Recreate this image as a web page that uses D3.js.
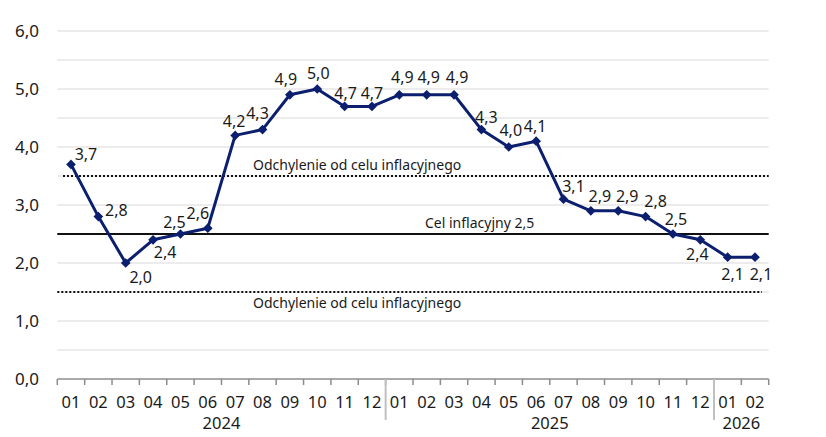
<!DOCTYPE html>
<html><head><meta charset="utf-8">
<script src="https://cdn.jsdelivr.net/npm/d3@7"></script>
<style>
body{margin:0;background:#fff;}
text{font-family:"Noto Sans",sans-serif;fill:#1a1a1a;}
</style></head>
<body><svg id="c" width="826" height="437"></svg>
<script>
const months = ["01","02","03","04","05","06","07","08","09","10","11","12",
                "01","02","03","04","05","06","07","08","09","10","11","12",
                "01","02"];
const years = ["2024","2025","2026"];
const yearOf = [0,0,0,0,0,0,0,0,0,0,0,0,1,1,1,1,1,1,1,1,1,1,1,1,2,2];
const values = [3.7,2.8,2.0,2.4,2.5,2.6,4.2,4.3,4.9,5.0,4.7,4.7,
                4.9,4.9,4.9,4.3,4.0,4.1,3.1,2.9,2.9,2.8,2.5,2.4,
                2.1,2.1];
const yTicks = [0,1,2,3,4,5,6];
const gridVals = [0.5,1,1.5,2,2.5,3,3.5,4,4.5,5,5.5,6];
const target = 2.5, upperBand = 3.5, lowerBand = 1.5;
const targetLabel = "Cel inflacyjny 2,5";
const bandLabel = "Odchylenie od celu inflacyjnego";
// label offsets (layout only) [dx, dy] from point to label centre
const labelOffsets = [[15,-10],[18,-6],[15,14],[12,13],[-6,-12],[-10,-15],[-1,-14],[-5,-16],[-4,-15],[1,-16],[1,-13],[0,-13],
                      [3,-17],[2,-17],[3,-17],[5,-12],[2,-17],[-1,-15],[10,-13],[9,-14],[9,-14],[10,-15],[3,-15],[-3,15],
                      [5,17],[6,17]];

const svg = d3.select("#c");
const L = 57.3, R = 768.7, T = 31, B = 379;
const idx = d3.range(values.length);
const x = d3.scaleBand().domain(idx).range([L, R]);
const y = d3.scaleLinear().domain([0,6]).range([B, T]);
const cx = i => x(i) + x.bandwidth()/2;
const fmt = v => d3.format(".1f")(v).replace(".", ",");
const navy = "#0c1f6f";

// gridlines
svg.append("g").selectAll("line").data(gridVals).join("line")
  .attr("x1", L).attr("x2", R).attr("y1", d=>y(d)).attr("y2", d=>y(d))
  .attr("stroke", "#d9d9d9").attr("stroke-width", 1);

// y axis labels
const yAxis = d3.axisLeft(y).tickValues(yTicks).tickSize(0).tickPadding(0).tickFormat(fmt);
const yg = svg.append("g").attr("transform", `translate(${39},0)`).call(yAxis);
yg.select(".domain").remove();
yg.selectAll("text").attr("font-size", 17).attr("font-family", "Noto Sans").attr("fill", "#1a1a1a");

// band lines
svg.append("line").attr("x1", 63).attr("x2", R).attr("y1", y(upperBand)).attr("y2", y(upperBand))
  .attr("stroke", "#111").attr("stroke-width", 2).attr("stroke-dasharray", "2,2");
svg.append("line").attr("x1", L).attr("x2", 762).attr("y1", y(lowerBand)).attr("y2", y(lowerBand))
  .attr("stroke", "#111").attr("stroke-width", 2).attr("stroke-dasharray", "2,2");
svg.append("line").attr("x1", L).attr("x2", R).attr("y1", y(target)).attr("y2", y(target))
  .attr("stroke", "#111").attr("stroke-width", 2);

svg.append("text").attr("x", 253).attr("y", y(upperBand) - 11).attr("dy", "0.35em")
  .attr("font-size", 14).text(bandLabel);
svg.append("text").attr("x", 253).attr("y", y(lowerBand) + 11).attr("dy", "0.35em")
  .attr("font-size", 14).text(bandLabel);
svg.append("text").attr("x", 425).attr("y", y(target) - 11).attr("dy", "0.35em")
  .attr("font-size", 14).text(targetLabel);

// x axis
const xg = svg.append("g").attr("transform", `translate(0,${B})`);
xg.append("line").attr("x1", L).attr("x2", R).attr("stroke", "#8c8c8c").attr("stroke-width", 1.5);
const bounds = d3.range(values.length + 1).map(i => i < values.length ? x(i) : x(values.length-1) + x.bandwidth());
xg.selectAll(".tk").data(bounds).join("line").attr("class","tk")
  .attr("x1", d=>d).attr("x2", d=>d).attr("y1", 0).attr("y2", 6)
  .attr("stroke", "#8c8c8c").attr("stroke-width", 1.5);
// year separators
const seps = idx.filter(i => i > 0 && yearOf[i] !== yearOf[i-1]);
xg.selectAll(".sep").data(seps).join("line").attr("class","sep")
  .attr("x1", i=>x(i)).attr("x2", i=>x(i)).attr("y1", 0).attr("y2", 41)
  .attr("stroke", "#c0c0c0").attr("stroke-width", 2);
xg.selectAll(".m").data(idx).join("text").attr("class","m")
  .attr("x", i=>cx(i)).attr("y", 23.5).attr("dy","0.35em").attr("text-anchor","middle")
  .attr("font-size", 16.5).text(i=>months[i]);
xg.selectAll(".yr").data(years).join("text").attr("class","yr")
  .attr("x", (d,k) => { const ii = idx.filter(i=>yearOf[i]===k); return (x(ii[0]) + x(ii[ii.length-1]) + x.bandwidth())/2; })
  .attr("y", 44.5).attr("dy","0.35em").attr("text-anchor","middle")
  .attr("font-size", 16.5).text(d=>d);

// series line
const line = d3.line().x((d,i)=>cx(i)).y(d=>y(d));
svg.append("path").datum(values).attr("d", line).attr("fill","none")
  .attr("stroke", navy).attr("stroke-width", 3).attr("stroke-linejoin","round");
svg.append("g").selectAll("path").data(values).join("path")
  .attr("d", d3.symbol(d3.symbolDiamond2, 60))
  .attr("transform", (d,i)=>`translate(${cx(i)},${y(d)})`)
  .attr("fill", navy);
// data labels
svg.append("g").selectAll("text").data(values).join("text")
  .attr("x", (d,i)=>cx(i) + labelOffsets[i][0]).attr("y", (d,i)=>y(d) + labelOffsets[i][1])
  .attr("dy","0.35em").attr("text-anchor","middle").attr("font-size", 16).text(fmt);
</script></body></html>
